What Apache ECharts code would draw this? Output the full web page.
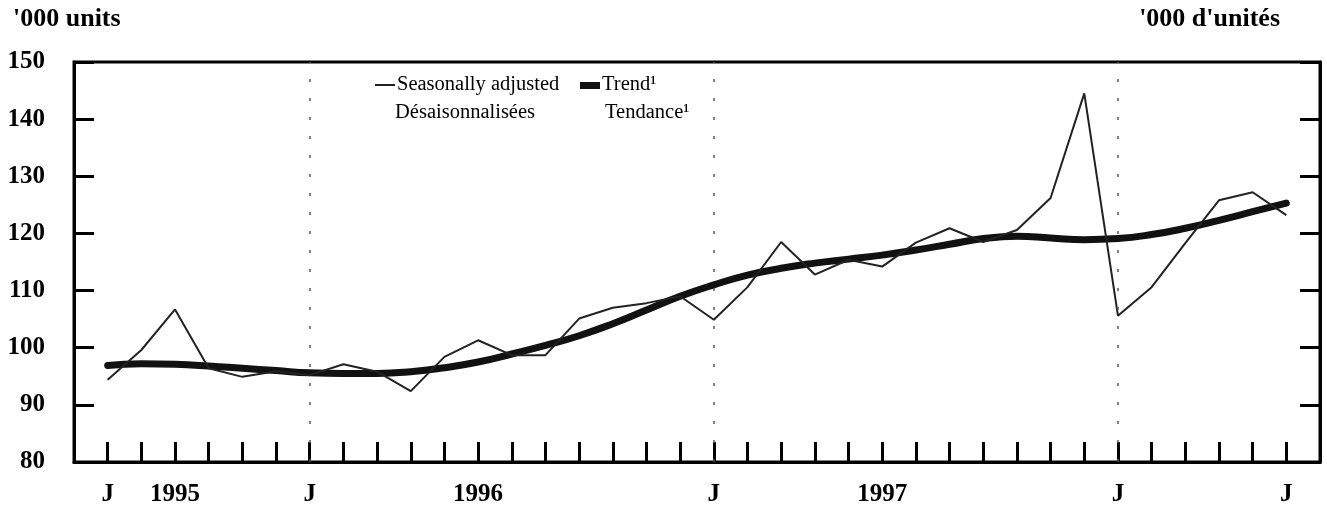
<!DOCTYPE html>
<html>
<head>
<meta charset="utf-8">
<script src="https://cdn.jsdelivr.net/npm/echarts@6/dist/echarts.min.js"></script>
<style>
  html, body { margin: 0; padding: 0; background: #fff; }
  #chart { width: 1327px; height: 510px; }
</style>
</head>
<body>
<div id="chart"></div>
<script>
// months Jul 1995 .. Jun 1998, one label per month (most blank)
var xLabels = ['J', '', '1995', '', '', '', 'J', '', '', '', '', '1996',
  '', '', '', '', '', '', 'J', '', '', '', '', '1997',
  '', '', '', '', '', '', 'J', '', '', '', '', 'J'];
var yearStarts = [6, 18, 30];

var seasonal = [94.4, 99.6, 106.7, 96.4, 94.9, 95.9, 95.2, 97.1, 95.8, 92.4, 98.4, 101.3,
  98.7, 98.7, 105.1, 107.0, 107.8, 109.0, 104.9, 110.6, 118.5, 112.8, 115.4, 114.2,
  118.4, 120.9, 118.5, 120.6, 126.2, 144.5, 105.6, 110.6, 118.3, 125.8, 127.2, 123.2];
var trend = [96.9, 97.2, 97.1, 96.8, 96.4, 96.0, 95.6, 95.5, 95.5, 95.8, 96.5, 97.5,
  98.9, 100.4, 102.1, 104.2, 106.6, 109.0, 111.0, 112.7, 113.9, 114.8, 115.5, 116.2,
  117.1, 118.1, 119.1, 119.5, 119.2, 118.9, 119.1, 119.8, 120.9, 122.3, 123.8, 125.3];

var serif = "'Liberation Serif', 'Times New Roman', serif";

var chart = echarts.init(document.getElementById('chart'));

var yAxisBase = {
  type: 'value',
  min: 80,
  max: 150,
  interval: 10,
  splitLine: { show: false },
  axisLine: { show: true, onZero: false, lineStyle: { color: '#000', width: 3 } },
  axisTick: { show: true, inside: true, length: 20, lineStyle: { color: '#000', width: 3 } }
};

chart.setOption({
  animation: false,
  backgroundColor: '#fff',
  grid: {
    left: 74, right: 7, top: 62, bottom: 48,
    show: true, borderColor: '#000', borderWidth: 3
  },
  xAxis: {
    type: 'value',
    min: -1,
    max: 36,
    interval: 1,
    splitLine: { show: false },
    axisLine: { onZero: false, lineStyle: { color: '#000', width: 3 } },
    axisTick: { inside: true, length: 20, lineStyle: { color: '#000', width: 3 } },
    axisLabel: {
      margin: 20,
      showMinLabel: true,
      showMaxLabel: true,
      color: '#000',
      fontFamily: serif,
      fontWeight: 'bold',
      fontSize: 25,
      formatter: function (v) {
        return xLabels[v] || '';
      }
    }
  },
  yAxis: [
    Object.assign({}, yAxisBase, {
      position: 'left',
      axisLabel: {
        margin: 29,
        color: '#000',
        fontFamily: serif,
        fontWeight: 'bold',
        fontSize: 25
      }
    }),
    Object.assign({}, yAxisBase, {
      position: 'right',
      axisLabel: { show: false }
    })
  ],
  series: [
    {
      name: 'Trend',
      type: 'line',
      data: trend.map(function (v, i) { return [i, v]; }),
      smooth: true,
      symbol: 'none',
      lineStyle: { color: '#111', width: 7, cap: 'round' },
      z: 2
    },
    {
      name: 'Seasonally adjusted',
      type: 'line',
      data: seasonal.map(function (v, i) { return [i, v]; }),
      symbol: 'none',
      lineStyle: { color: '#222', width: 2 },
      z: 3,
      markLine: {
        silent: true,
        symbol: 'none',
        label: { show: false },
        lineStyle: { color: '#555', width: 1.5, type: [3, 16] },
        data: yearStarts.map(function (x) { return { xAxis: x }; })
      }
    }
  ],
  graphic: [
    {
      type: 'text', left: 13, top: 6,
      style: { text: "'000 units", font: 'bold 26px ' + serif, fill: '#000' }
    },
    {
      type: 'text', right: 47, top: 6,
      style: { text: "'000 d'unités", font: 'bold 26px ' + serif, fill: '#000' }
    },
    {
      type: 'line',
      shape: { x1: 375, y1: 85, x2: 395, y2: 85 },
      style: { stroke: '#222', lineWidth: 2 }
    },
    {
      type: 'text', x: 397, y: 85,
      style: { text: 'Seasonally adjusted', font: '20.5px ' + serif, fill: '#000', verticalAlign: 'middle' }
    },
    {
      type: 'text', x: 395, y: 113,
      style: { text: 'Désaisonnalisées', font: '20.5px ' + serif, fill: '#000', verticalAlign: 'middle' }
    },
    {
      type: 'rect',
      shape: { x: 580, y: 82, width: 20, height: 7 },
      style: { fill: '#111' }
    },
    {
      type: 'text', x: 602, y: 85,
      style: { text: 'Trend¹', font: '20.5px ' + serif, fill: '#000', verticalAlign: 'middle' }
    },
    {
      type: 'text', x: 605, y: 113,
      style: { text: 'Tendance¹', font: '20.5px ' + serif, fill: '#000', verticalAlign: 'middle' }
    }
  ]
});
</script>
</body>
</html>
